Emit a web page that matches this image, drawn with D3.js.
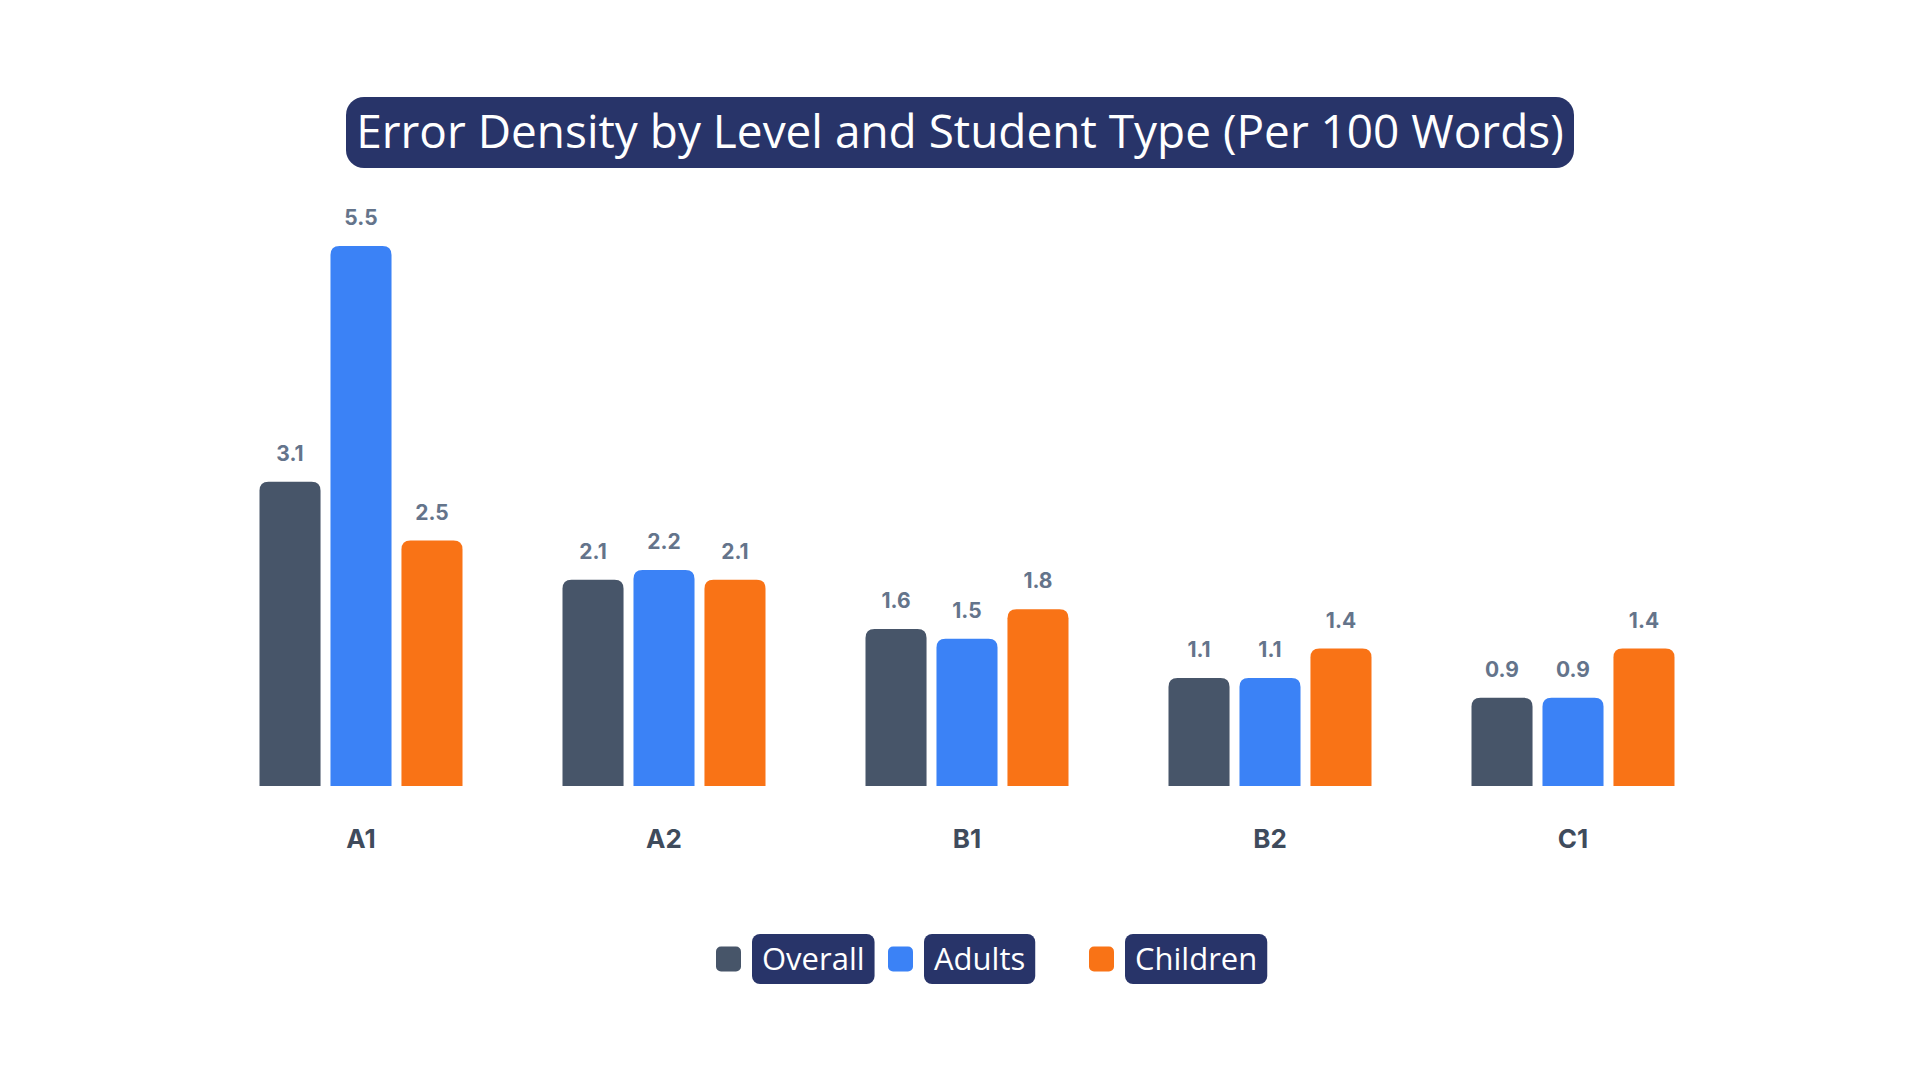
<!DOCTYPE html>
<html>
<head>
<meta charset="utf-8">
<script src="https://cdn.jsdelivr.net/npm/d3@7"></script>
<style>
  body { margin: 0; background: #ffffff; }
  svg { display: block; }
</style>
</head>
<body>
<script>
var chartTitle = "Error Density by Level and Student Type (Per 100 Words)";
var levels = ["A1", "A2", "B1", "B2", "C1"];
var seriesNames = ["Overall", "Adults", "Children"];
var overallValues = [3.1, 2.1, 1.6, 1.1, 0.9];
var adultValues = [5.5, 2.2, 1.5, 1.1, 0.9];
var childValues = [2.5, 2.1, 1.8, 1.4, 1.4];

var width = 1920;
var height = 1080;
var baseline = 786;
var barTop = 246;
var colors = ["#475569", "#3b82f6", "#f97316"];
var navy = "#283469";

//build one record per level holding the three series values
var seriesValues = [overallValues, adultValues, childValues];
var rows = levels.map(function(level, i){
    return {
        level: level,
        values: seriesNames.map(function(name, j){
            return {name: name, value: seriesValues[j][i], color: colors[j]};
        })
    };
});

//scales for group position, bar position inside a group and bar height
var x0Scale = d3.scaleBand( )
                .domain(levels)
                .range([209.5, 1724.5])
                .paddingInner(0.33)
                .paddingOuter(0.165);

var x1Scale = d3.scaleBand( )
                .domain(seriesNames)
                .range([0, x0Scale.bandwidth( )])
                .paddingInner(0.14);

var yScale = d3.scaleLinear( )
               .domain([0, d3.max(adultValues.concat(overallValues, childValues))])
               .range([baseline, barTop]);

var _svg = d3.select("body")
             .append("svg")
             .attr("width", width)
             .attr("height", height);

//title inside a rounded navy box
var titleBox = _svg.append("rect")
                   .attr("x", 346)
                   .attr("y", 97)
                   .attr("width", 1228)
                   .attr("height", 71)
                   .attr("rx", 18)
                   .attr("fill", navy);

var title = _svg.append("text")
                .attr("x", width / 2)
                .attr("y", 148)
                .attr("text-anchor", "middle")
                .attr("font-family", "'Open Sans', sans-serif")
                .attr("font-size", 44)
                .attr("fill", "#ffffff")
                .text(chartTitle);

//fit the title to the width of the box
var titleWidth = title.node( ).getComputedTextLength( );
title.attr("font-size", Math.min(46, 44 * 1208 / titleWidth));

//path for a bar with rounded top corners only
function barPath(x, y, w, h, r){
    r = Math.min(r, h, w / 2);
    return "M" + x + "," + (y + h) +
           "V" + (y + r) +
           "Q" + x + "," + y + " " + (x + r) + "," + y +
           "H" + (x + w - r) +
           "Q" + (x + w) + "," + y + " " + (x + w) + "," + (y + r) +
           "V" + (y + h) + "Z";
}

var groups = _svg.append("g")
                 .selectAll("g")
                 .data(rows)
                 .enter( )
                 .append("g")
                 .attr("transform", function(d){ return "translate(" + x0Scale(d.level) + ",0)"; });

//draw bars
groups.selectAll("path")
      .data(function(d){ return d.values; })
      .enter( )
      .append("path")
      .attr("d", function(d){
          return barPath(x1Scale(d.name), yScale(d.value), x1Scale.bandwidth( ), baseline - yScale(d.value), 9);
      })
      .attr("fill", function(d){ return d.color; });

//value labels above bars
groups.selectAll("text")
      .data(function(d){ return d.values; })
      .enter( )
      .append("text")
      .attr("x", function(d){ return x1Scale(d.name) + x1Scale.bandwidth( ) / 2; })
      .attr("y", function(d){ return yScale(d.value) - 21; })
      .attr("text-anchor", "middle")
      .attr("font-family", "Inter, sans-serif")
      .attr("font-weight", 700)
      .attr("font-size", 21)
      .attr("fill", "#64748b")
      .text(function(d){ return d3.format(".1f")(d.value); });

//category axis, labels only
var xAxis = d3.axisBottom( )
              .scale(x0Scale)
              .tickSize(0)
              .tickPadding(0);

var axisG = _svg.append("g")
                .attr("transform", "translate(0," + 830 + ")")
                .call(xAxis);

axisG.select(".domain").remove( );
axisG.selectAll("text")
     .attr("dy", "0.71em")
     .attr("font-family", "Inter, sans-serif")
     .attr("font-weight", 700)
     .attr("font-size", 26)
     .attr("fill", "#3f4b5c");

//legend: colour square then name in a navy box
var legendX = [716, 888, 1089];
var legendY = 959;

var legend = _svg.append("g")
                 .selectAll("g")
                 .data(seriesNames)
                 .enter( )
                 .append("g")
                 .attr("transform", function(d, i){ return "translate(" + legendX[i] + "," + legendY + ")"; });

legend.append("rect")
      .attr("x", 0)
      .attr("y", -12.5)
      .attr("width", 25)
      .attr("height", 25)
      .attr("rx", 5)
      .attr("fill", function(d, i){ return colors[i]; });

var legendBoxes = legend.append("rect")
                        .attr("x", 36)
                        .attr("y", -25)
                        .attr("height", 50)
                        .attr("rx", 8)
                        .attr("fill", navy);

var legendText = legend.append("text")
                       .attr("x", 46)
                       .attr("y", 11)
                       .attr("font-family", "'Open Sans', sans-serif")
                       .attr("font-size", 31)
                       .attr("fill", "#ffffff")
                       .text(function(d){ return d; });

legendText.each(function(d, i){
    var w = this.getComputedTextLength( );
    d3.select(legendBoxes.nodes( )[i]).attr("width", w + 20);
});
</script>
</body>
</html>
